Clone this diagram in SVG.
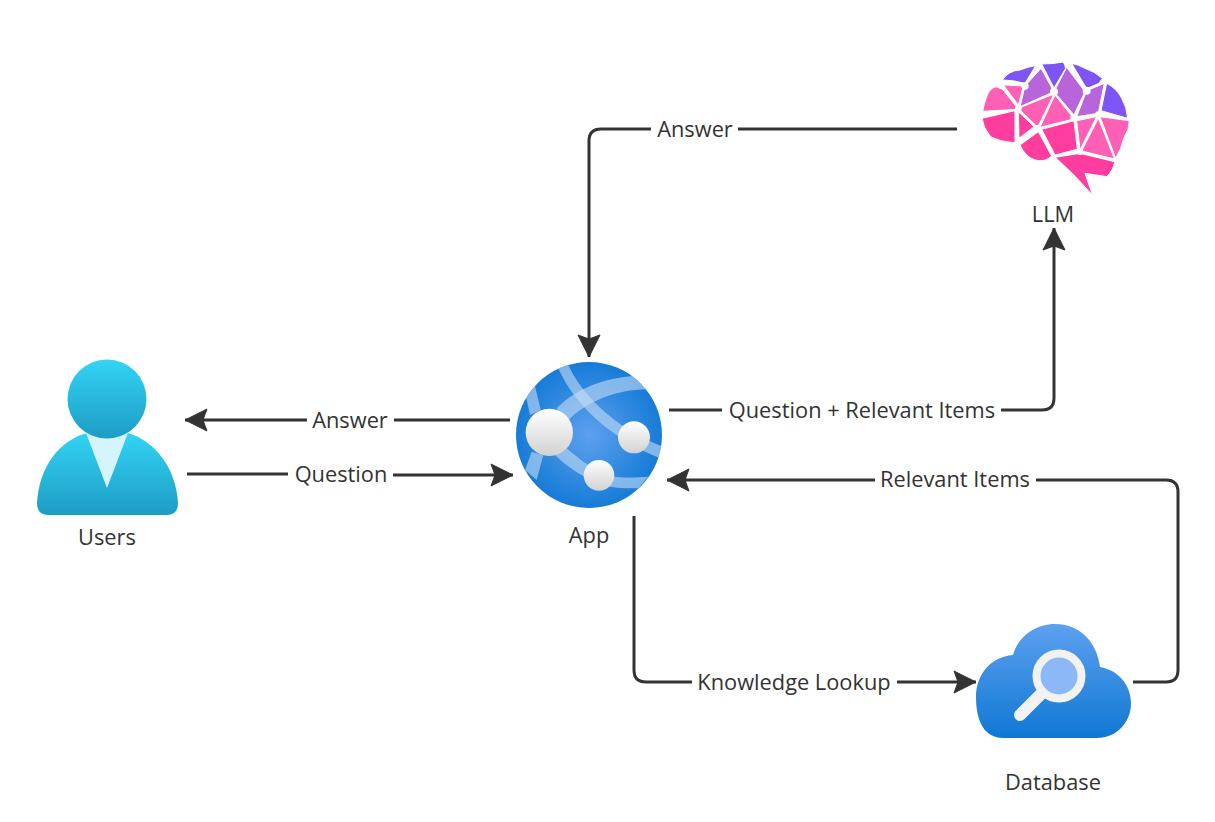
<svg xmlns="http://www.w3.org/2000/svg" width="1215" height="822" viewBox="0 0 1215 822">
<style>
text{font-family:"Open Sans","Noto Sans",sans-serif;font-size:21.800px;fill:#333;text-anchor:middle}
.c{fill:none;stroke:#333;stroke-width:3}
.w{stroke:#fff;stroke-width:3;stroke-linejoin:round}
.p1{fill:#7d55f5}.p2{fill:#b865dc}.p3{fill:#ff5fb4}.p4{fill:#ff3d9e}
.hl{fill:#c4dcf5;fill-opacity:.6}
</style>
<defs>
<marker id="a" markerUnits="userSpaceOnUse" markerWidth="26" markerHeight="26" refX="23" refY="13" orient="auto"><path d="M1,2 L23,13 L1,24 L5,13Z" fill="#333" stroke="#333" stroke-linejoin="round"/></marker>
<linearGradient id="u" x1="0" y1="0" x2="0" y2="1"><stop offset="0" stop-color="#32d4f5"/><stop offset="1" stop-color="#1e9cc4"/></linearGradient>
<radialGradient id="g" cx=".5" cy=".5" r=".55"><stop offset="0" stop-color="#5ea0ef"/><stop offset="1" stop-color="#0f78d4"/></radialGradient>
<linearGradient id="s" x1="0" y1="0" x2="0" y2="1"><stop offset="0" stop-color="#fff"/><stop offset="1" stop-color="#d2d2d2"/></linearGradient>
<linearGradient id="d" x1="0" y1="0" x2="0" y2="1"><stop offset="0" stop-color="#5ea0ef"/><stop offset="1" stop-color="#0f78d4"/></linearGradient>
<clipPath id="gc"><circle cx="267" cy="255" r="219"/></clipPath>
</defs>
<g id="connectors">
<path class="c" d="M957,129H738M651,129H601Q589,129 589,141V357" marker-end="url(#a)"/>
<path class="c" d="M669,410H722M1001,410H1042Q1054,410 1054,398V228" marker-end="url(#a)"/>
<path class="c" d="M510,420H394M307,420H185" marker-end="url(#a)"/>
<path class="c" d="M187,474H288M393,475H513" marker-end="url(#a)"/>
<path class="c" d="M1133,682H1166Q1178,682 1178,670V492Q1178,480 1166,480H1036M875,480H667" marker-end="url(#a)"/>
<path class="c" d="M634,516V670Q634,682 646,682H692M897,682H976" marker-end="url(#a)"/>
</g>
<g id="labels">
<text x="695" y="137">Answer</text>
<text x="862" y="418">Question + Relevant Items</text>
<text x="350" y="428">Answer</text>
<text x="341" y="482">Question</text>
<text x="955" y="487">Relevant Items</text>
<text x="794" y="690">Knowledge Lookup</text>
</g>
<g id="users">
<path d="M37,503C39,466 60,440 87,433L128,433C155,441 176,468 178,503Q178,515 167,515H48Q37,515 37,503Z" fill="url(#u)"/>
<path d="M86,433L128,433L107,488Z" fill="#d4f5fc"/>
<circle cx="107" cy="399" r="39.500" fill="url(#u)"/>
<text x="107" y="545">Users</text>
</g>
<g id="app">
<g transform="translate(500,350) scale(.3333)">
<circle cx="267" cy="255" r="219" fill="url(#g)"/>
<g clip-path="url(#gc)" class="hl">
<path d="M175,55L205,45C240,125 340,235 490,290L480,325C330,265 220,160 175,55Z"/>
<path d="M170,175C230,115 310,85 400,78L440,118C350,120 265,150 200,215Z"/>
<path d="M105,108L78,140L90,195L122,180Z"/>
<path d="M95,305L130,315L110,390L75,360Z"/>
<path d="M165,315L200,295C240,330 300,375 345,380C380,385 410,382 445,380L415,415C390,415 360,415 330,410C280,400 210,360 165,315Z"/>
</g>
<circle cx="148" cy="247" r="71" fill="url(#s)"/>
<circle cx="402" cy="262" r="48" fill="url(#s)"/>
<circle cx="297" cy="376" r="46" fill="url(#s)"/>
</g>
<text x="589" y="543">App</text>
</g>
<g id="database">
<path d="M1003,738C985,738 976,722 976,697C976,675 990,657 1013,655C1018,637 1035,624 1055,624C1080,624 1097,642 1100,667C1118,670 1131,685 1131,703C1131,723 1116,738 1097,738Z" fill="url(#d)"/>
<path d="M1020,715L1042,693" stroke="#f2f2f2" stroke-width="12" stroke-linecap="round"/>
<circle cx="1059" cy="676" r="22.500" fill="#8cb8f8" stroke="#f2f2f2" stroke-width="8"/>
<text x="1053" y="790">Database</text>
</g>
<g id="llm">
<g transform="translate(970,50) scale(.3333)" class="w">
<path class="p1" d="M97,90Q115,62 150,60Q175,50 197,47L165,100Q130,90 97,90Z"/>
<path class="p1" d="M215,42Q250,42 280,36Q285,45 287,55L252,114Z"/>
<path class="p1" d="M305,40Q325,44 345,55Q375,65 397,85L387,100L350,116Z"/>
<path class="p1" d="M410,100Q440,115 455,145Q470,170 473,205L393,182Z"/>
<path class="p2" d="M213,55L252,125L150,170L165,108Z"/>
<path class="p2" d="M290,52L345,125L312,195L252,125Z"/>
<path class="p2" d="M403,100L385,190L320,200L350,122Z"/>
<path class="p3" d="M100,105L160,108L145,165Z"/>
<path class="p3" d="M38,184Q42,160 50,140Q58,115 78,110L98,118L145,178Z"/>
<path class="p3" d="M252,132L145,175L203,232Z"/>
<path class="p3" d="M255,135L312,207L210,232Z"/>
<path class="p3" d="M380,200L320,212L330,300Z"/>
<path class="p3" d="M390,200L478,212Q478,240 462,262Q455,295 437,325Z"/>
<path class="p3" d="M385,205L434,327L335,303Z"/>
<path class="p4" d="M36,205L135,182L135,278Q90,275 62,260Q40,235 36,205Z"/>
<path class="p4" d="M145,185L192,230L147,265Z"/>
<path class="p4" d="M205,245L245,318Q225,338 195,330Q165,320 150,285Z"/>
<path class="p4" d="M215,238L312,212L322,298L255,315Z"/>
<path class="p4" d="M256,322L330,310L434,335Q430,362 410,380L345,370L368,436Q320,380 256,322Z"/>
<g fill="#fff" stroke="none"><circle cx="165" cy="108" r="11"/><circle cx="252" cy="125" r="12"/><circle cx="350" cy="122" r="12"/><circle cx="145" cy="175" r="10"/><circle cx="312" cy="204" r="11"/><circle cx="385" cy="194" r="10"/><circle cx="203" cy="234" r="10"/><circle cx="330" cy="305" r="10"/></g>
</g>
<text x="1053" y="222">LLM</text>
</g>
</svg>
